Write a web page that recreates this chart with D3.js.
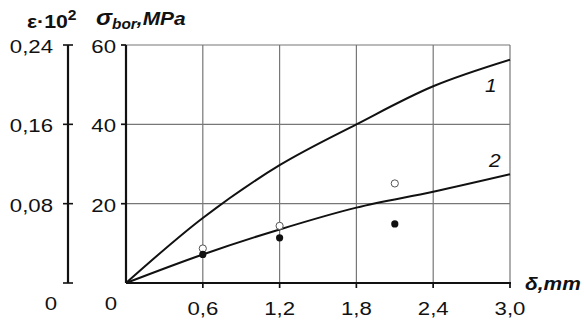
<!DOCTYPE html>
<html><head><meta charset="utf-8">
<script src="https://cdn.jsdelivr.net/npm/d3@7"></script>
<style>body{margin:0;background:#fff}svg{display:block}</style>
</head><body>
<script>
const xTicks = [0.6, 1.2, 1.8, 2.4, 3.0];
const xTickLabels = ["0,6", "1,2", "1,8", "2,4", "3,0"];
const yTicks = [20, 40, 60];
const epsTicks = [0.08, 0.16, 0.24];
const epsTickLabels = ["0,08", "0,16", "0,24"];
const curve1X = [0, 0.6, 1.2, 1.8, 2.4, 3.0];
const curve1Y = [0, 16.4, 29.7, 40.0, 49.6, 56.3];
const curve2X = [0, 0.6, 1.2, 1.8, 2.4, 3.0];
const curve2Y = [0, 7.2, 13.5, 19.0, 23.0, 27.4];
const openX = [0.6, 1.2, 2.1];
const openY = [8.7, 14.4, 25.1];
const filledX = [0.6, 1.2, 2.1];
const filledY = [7.2, 11.4, 14.9];

const W = 584, H = 321;
const svg = d3.select("body").append("svg").attr("width", W).attr("height", H);
const x = d3.scaleLinear().domain([0, 3.0]).range([126, 510]);
const y = d3.scaleLinear().domain([0, 60]).range([283, 45]);
const e = d3.scaleLinear().domain([0, 0.24]).range([283, 45]);
const FONT = "'Liberation Sans', Arial, sans-serif";

function txt(g, s, px, py, anchor, opts) {
  opts = opts || {};
  const t = g.append("text")
    .attr("transform", `translate(${px},${py}) scale(${opts.sx || 1.2},1)`)
    .attr("text-anchor", anchor)
    .attr("font-family", FONT)
    .attr("font-size", opts.size || 18.5)
    .attr("fill", "#111")
    .text(s);
  if (opts.weight) t.attr("font-weight", opts.weight);
  if (opts.style) t.attr("font-style", opts.style);
  return t;
}

// grid
const grid = svg.append("g").attr("stroke", "#777").attr("stroke-width", 1.2);
grid.selectAll(".vg").data(xTicks).enter().append("line")
  .attr("x1", d => x(d)).attr("x2", d => x(d)).attr("y1", y(60)).attr("y2", y(0) + 5);
grid.selectAll(".hg").data(yTicks).enter().append("line")
  .attr("x1", x(0) - 5).attr("x2", x(3.0)).attr("y1", d => y(d)).attr("y2", d => y(d));
svg.append("g").selectAll("line").data(xTicks).enter().append("line")
  .attr("x1", d => x(d)).attr("x2", d => x(d)).attr("y1", y(0)).attr("y2", y(0) + 5)
  .attr("stroke", "#111").attr("stroke-width", 1.6);
svg.append("g").selectAll("line").data(yTicks).enter().append("line")
  .attr("x1", x(0) - 5).attr("x2", x(0)).attr("y1", d => y(d)).attr("y2", d => y(d))
  .attr("stroke", "#111").attr("stroke-width", 1.6);

// main axes
svg.append("line").attr("x1", x(0)).attr("x2", x(0)).attr("y1", y(60)).attr("y2", y(0))
  .attr("stroke", "#111").attr("stroke-width", 2.2);
svg.append("line").attr("x1", x(0)).attr("x2", x(3.0) + 1).attr("y1", y(0)).attr("y2", y(0))
  .attr("stroke", "#111").attr("stroke-width", 2.2);

// epsilon axis
const ex = 68;
svg.append("line").attr("x1", ex).attr("x2", ex).attr("y1", e(0.24)).attr("y2", e(0))
  .attr("stroke", "#111").attr("stroke-width", 2.2);
svg.append("g").selectAll("line").data([0].concat(epsTicks)).enter().append("line")
  .attr("x1", ex - 5).attr("x2", ex + 5).attr("y1", d => e(d)).attr("y2", d => e(d))
  .attr("stroke", "#111").attr("stroke-width", 1.6);

// lines
const line = d3.line().x(d => x(d[0])).y(d => y(d[1])).curve(d3.curveCatmullRom.alpha(0.5));
svg.append("path").datum(curve1X.map((v, i) => [v, curve1Y[i]])).attr("d", line)
  .attr("fill", "none").attr("stroke", "#111").attr("stroke-width", 2);
svg.append("path").datum(curve2X.map((v, i) => [v, curve2Y[i]])).attr("d", line)
  .attr("fill", "none").attr("stroke", "#111").attr("stroke-width", 2);

// markers
svg.append("g").selectAll("circle").data(openX.map((v, i) => [v, openY[i]])).enter().append("circle")
  .attr("cx", d => x(d[0])).attr("cy", d => y(d[1])).attr("r", 3.6)
  .attr("fill", "#fff").attr("stroke", "#555").attr("stroke-width", 1);
svg.append("g").selectAll("circle").data(filledX.map((v, i) => [v, filledY[i]])).enter().append("circle")
  .attr("cx", d => x(d[0])).attr("cy", d => y(d[1])).attr("r", 3.6)
  .attr("fill", "#111");

// tick labels
const tl = svg.append("g");
yTicks.forEach(v => txt(tl, String(v), x(0) - 10, y(v) + 8, "end"));
epsTicks.forEach((v, i) => txt(tl, epsTickLabels[i], ex - 15, e(v) + 8, "end"));
txt(tl, "0", 51, 310, "middle");
txt(tl, "0", 111, 310, "middle");
xTicks.forEach((v, i) => txt(tl, xTickLabels[i], x(v), 315, "middle"));

// titles
const t1 = txt(svg, "", 27, 28, "start", { weight: "bold", size: 19, sx: 1.12 });
t1.append("tspan").text("ε·10");
t1.append("tspan").attr("dy", -8).attr("font-size", 14).text("2");

const t2 = txt(svg, "", 96, 25, "start", { weight: "bold", style: "italic", size: 19, sx: 1.1 });
t2.append("tspan").attr("font-size", 22).text("σ");
t2.append("tspan").attr("dy", 4).attr("font-size", 14).text("bor");
t2.append("tspan").attr("dy", -4).text(",MPa");

txt(svg, "δ,mm", 525, 290, "start", { weight: "bold", style: "italic", size: 19, sx: 1.1 });

// curve labels
txt(svg, "1", 485, 92, "start", { style: "italic", size: 19, sx: 1.1 });
txt(svg, "2", 489, 167, "start", { style: "italic", size: 19, sx: 1.1 });
</script>
</body></html>
